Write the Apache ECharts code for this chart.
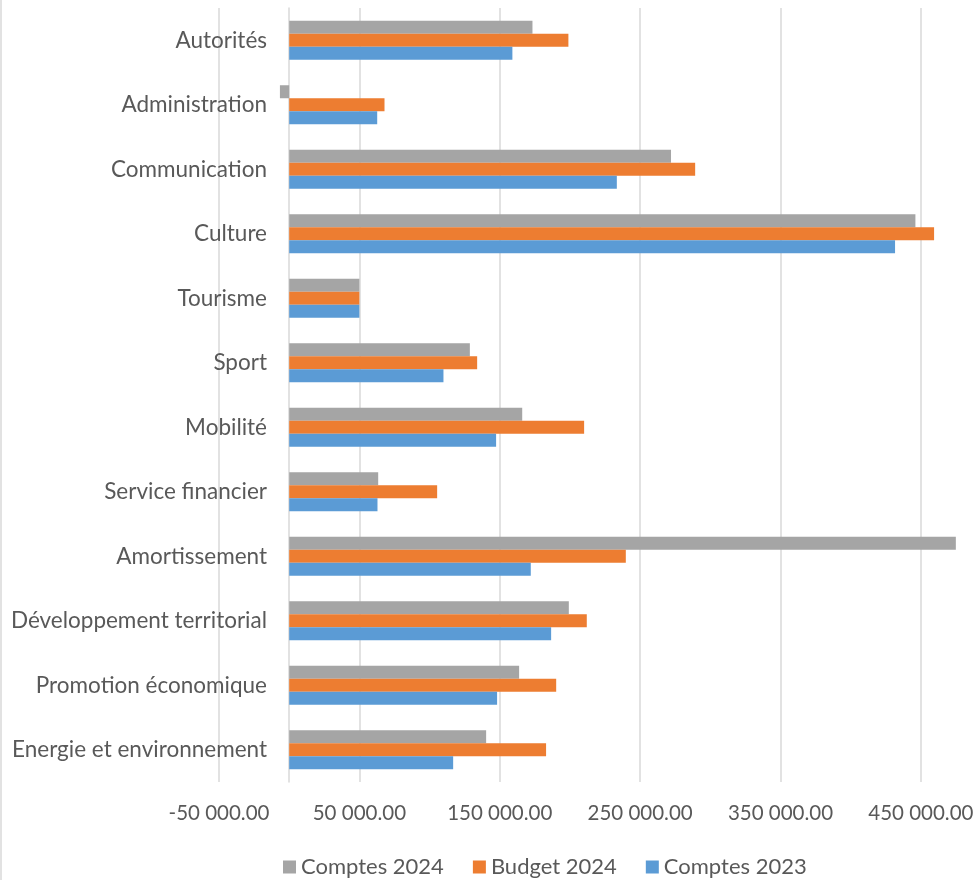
<!DOCTYPE html>
<html>
<head>
<meta charset="utf-8">
<script src="https://cdn.jsdelivr.net/npm/echarts@6/dist/echarts.min.js"></script>
<style>
html,body{margin:0;padding:0;background:#fff;}
#chart{width:977px;height:880px;}
</style>
</head>
<body>
<div id="chart"></div>
<script>
var categories = ["Autorités","Administration","Communication","Culture","Tourisme","Sport","Mobilité","Service financier","Amortissement","Développement territorial","Promotion économique","Energie et environnement"];
var comptes2024 = [173300,-6600,272000,446100,50000,128700,166000,63400,474900,199200,163800,140300];
var budget2024  = [198900,67900,289200,459400,50000,133900,210100,105400,239800,212000,190200,183000];
var comptes2023 = [159000,62700,233400,431600,50000,109900,147400,62900,172100,186600,148100,116800];
var xTicksMin = -50000, xTicksStep = 100000, xMax = 480000;

function fmt(v){
  var neg = v < 0; var a = Math.abs(Math.round(v));
  var s = String(a).replace(/\B(?=(\d{3})+(?!\d))/g, ' ');
  return (neg ? '-' : '') + s + '.00';
}

var FONT = 'Lato';
var chart = echarts.init(document.getElementById('chart'));
chart.setOption({
  animation: false,
  backgroundColor: '#fff',
  textStyle: {fontFamily: FONT},
  grid: {left: 219, right: 14, top: 8, bottom: 98, containLabel: false, outerBoundsMode: 'none'},
  legend: {
    data: ['Comptes 2024','Budget 2024','Comptes 2023'],
    top: 851, left: 278,
    icon: 'rect', itemWidth: 13, itemHeight: 13, itemGap: 29,
    textStyle: {fontFamily: FONT, fontSize: 22, color: '#595959'}
  },
  graphic: [{type: 'line', shape: {x1: 1, y1: 0, x2: 1, y2: 880}, style: {stroke: '#d9d9d9', lineWidth: 1.5}}],
  xAxis: {
    type: 'value', min: xTicksMin, max: xMax, interval: xTicksStep,
    axisLine: {show: false}, axisTick: {show: false},
    splitLine: {show: true, showMaxLine: false, lineStyle: {color: '#d9d9d9', width: 1.5}},
    axisLabel: {showMaxLabel: false, formatter: fmt, margin: 21, fontFamily: FONT, fontSize: 20.5, color: '#595959'}
  },
  yAxis: {
    type: 'category', data: categories, inverse: true,
    axisLine: {show: true, onZero: true, lineStyle: {color: '#d9d9d9', width: 1.5}},
    axisTick: {show: false},
    axisLabel: {margin: -48, fontFamily: FONT, fontSize: 22.5, color: '#595959'}
  },
  series: [
    {name: 'Comptes 2024', type: 'bar', data: comptes2024, barWidth: 13, barGap: '0%', itemStyle: {color: '#a5a5a5'}},
    {name: 'Budget 2024', type: 'bar', data: budget2024, barWidth: 13, barGap: '0%', itemStyle: {color: '#ed7d31'}},
    {name: 'Comptes 2023', type: 'bar', data: comptes2023, barWidth: 13, barGap: '0%', itemStyle: {color: '#5b9bd5'}}
  ]
});
</script>
</body>
</html>
